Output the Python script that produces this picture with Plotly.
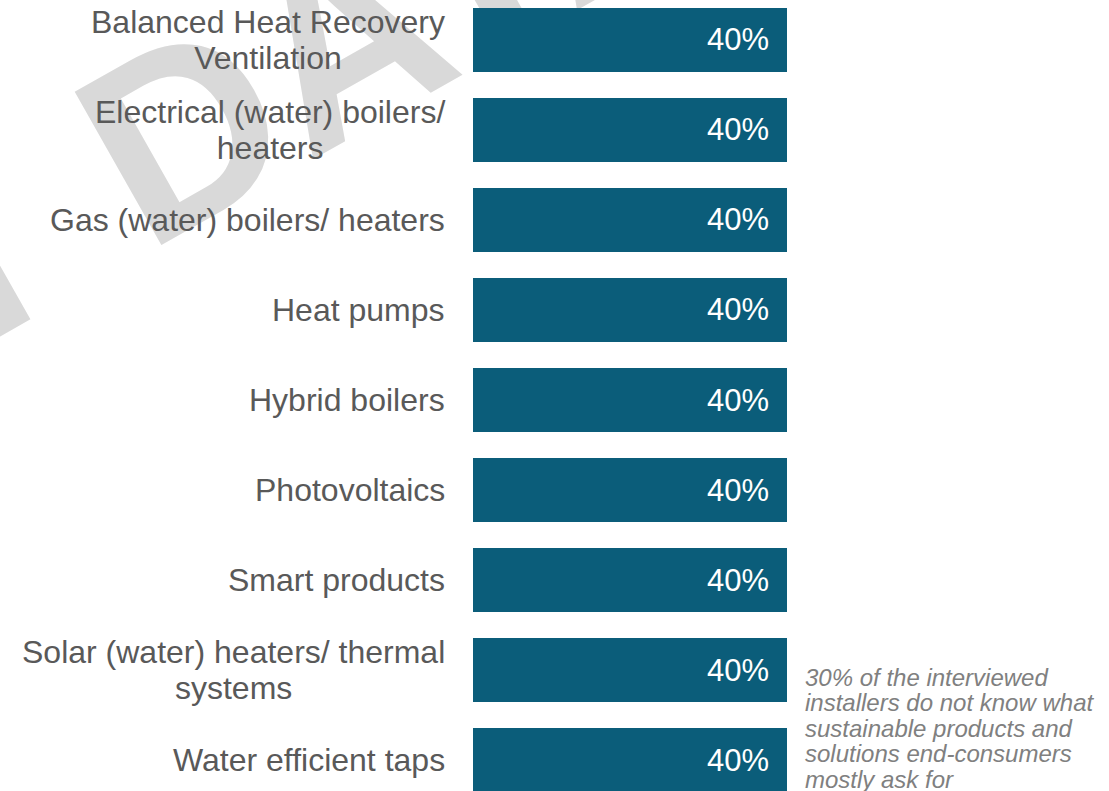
import plotly.graph_objects as go

# ---- data ----
categories = [
    "Balanced Heat Recovery<br>Ventilation",
    "Electrical (water) boilers/<br>heaters",
    "Gas (water) boilers/ heaters",
    "Heat pumps",
    "Hybrid boilers",
    "Photovoltaics",
    "Smart products",
    "Solar (water) heaters/ thermal<br>systems",
    "Water efficient taps",
]
values = [0.40, 0.40, 0.40, 0.40, 0.40, 0.40, 0.40, 0.40, 0.40]
note_lines = [
    "30% of the interviewed",
    "installers do not know what",
    "sustainable products and",
    "solutions end-consumers",
    "mostly ask for",
]
watermark = "DUMMY DATA"

# ---- style ----
BAR = "#0B5D7A"
LABEL = "#595959"
NOTE = "#808080"
FONT = "Liberation Sans, Arial, sans-serif"
W, H = 1109, 791
L = 473

fig = go.Figure()
fig.add_trace(go.Bar(
    x=values, y=categories, orientation="h",
    marker=dict(color=BAR, line=dict(width=0)),
    hoverinfo="skip",
))


def sized(text, px):
    return "<br>".join(f"<span style='font-size:{px}px'>{t}</span>" for t in text.split("<br>"))


annotations = []
for cat, v in zip(categories, values):
    annotations.append(dict(
        x=0, xref="paper", y=cat, yref="y", xanchor="right", yanchor="middle",
        xshift=-26, align="center", showarrow=False,
        text=sized(cat, 32), font=dict(family=FONT, size=28, color=LABEL),
    ))
    annotations.append(dict(
        x=v, xref="x", y=cat, yref="y", xanchor="right", yanchor="middle",
        xshift=-16, showarrow=False,
        text=f"{v:.0%}", font=dict(family=FONT, size=31, color="white"),
    ))

annotations.append(dict(
    x=(803 - L) / (W - L), xref="paper", y=1 - 728 / H, yref="paper",
    xanchor="left", yanchor="middle", align="left", showarrow=False,
    text="<i>" + sized("<br>".join(note_lines), 24) + "</i>",
    font=dict(family=FONT, size=19.6, color=NOTE),
))

# watermark placement (pixel anchor of the rotated text)
cx_px, cy_px = -66, 244
cx = (cx_px - L) / (W - L)
cy = 1 - cy_px / H
shapes = [dict(
    type="rect", xref="paper", yref="paper",
    x0=cx - 0.005, x1=cx + 0.005, y0=cy - 0.005, y1=cy + 0.005,
    fillcolor="rgba(0,0,0,0)", line=dict(width=0), layer="below",
    label=dict(text="<b>" + watermark + "</b>", textangle=-29.5,
               textposition="middle center",
               font=dict(family=FONT, size=256, color="#D9D9D9")),
)]

fig.update_layout(
    width=W, height=H,
    margin=dict(l=L, r=0, t=0, b=0),
    paper_bgcolor="white", plot_bgcolor="rgba(0,0,0,0)",
    showlegend=False, bargap=0.289,
    xaxis=dict(range=[0, (W - L) / 785], visible=False, fixedrange=True),
    yaxis=dict(type="category", categoryorder="array", categoryarray=categories,
               range=[8.344, -0.444], visible=False, fixedrange=True),
    annotations=annotations, shapes=shapes,
)

fig.write_html(
    "out.html",
    config={"displayModeBar": False},
    post_script="document.body.style.margin='0';document.body.style.overflow='hidden';",
)
